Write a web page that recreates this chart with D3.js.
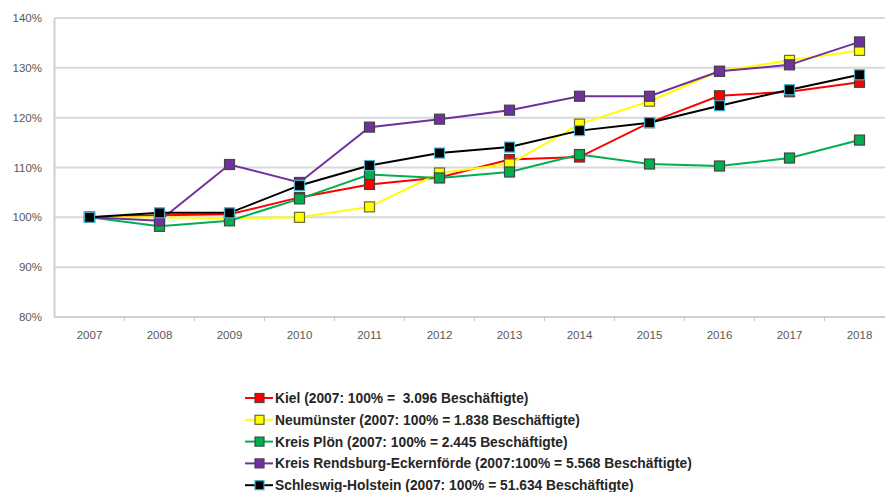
<!DOCTYPE html>
<html>
<head>
<meta charset="utf-8">
<script src="https://cdn.jsdelivr.net/npm/d3@7"></script>
<style>
  body { margin: 0; background: #fff; }
  svg text { font-family: "Liberation Sans", Arial, sans-serif; }
</style>
</head>
<body>
<svg class="chart" width="885" height="492"></svg>
<script>
const years = ["2007","2008","2009","2010","2011","2012","2013","2014","2015","2016","2017","2018"];
const kiel = [100, 100.4, 100.6, 104.0, 106.6, 108.0, 111.6, 112.1, 119.0, 124.4, 125.2, 127.1];
const neumuenster = [100, 100.0, 99.8, 100.0, 102.1, 108.9, 110.7, 118.7, 123.3, 129.3, 131.5, 133.5];
const ploen = [100, 98.2, 99.3, 103.7, 108.6, 107.9, 109.1, 112.6, 110.7, 110.3, 111.9, 115.5];
const rendsburg = [100, 99.3, 110.6, 107.0, 118.1, 119.7, 121.5, 124.3, 124.3, 129.3, 130.6, 135.2];
const schleswigHolstein = [100, 100.9, 100.9, 106.4, 110.4, 112.9, 114.1, 117.4, 119.0, 122.4, 125.6, 128.6];
const yTicks = [80, 90, 100, 110, 120, 130, 140];
const legendLabels = [
  "Kiel (2007: 100% =  3.096 Beschäftigte)",
  "Neumünster (2007: 100% = 1.838 Beschäftigte)",
  "Kreis Plön (2007: 100% = 2.445 Beschäftigte)",
  "Kreis Rendsburg-Eckernförde (2007:100% = 5.568 Beschäftigte)",
  "Schleswig-Holstein (2007: 100% = 51.634 Beschäftigte)"
];

const series = [
  { values: kiel, color: "#ff0000", edge: "#444" },
  { values: neumuenster, color: "#ffff00", edge: "#6b6b30" },
  { values: ploen, color: "#00b050", edge: "#444" },
  { values: rendsburg, color: "#7030a0", edge: "#444" },
  { values: schleswigHolstein, color: "#000000", edge: "#4bacc6" }
];
series.forEach((s, i) => s.label = legendLabels[i]);

const svg = d3.select(".chart");
const plotLeft = 54.5, plotTop = 18, plotBottom = 317;

const x = d3.scaleBand().domain(years).range([plotLeft, plotLeft + 70 * years.length]);
const y = d3.scaleLinear().domain([80, 140]).range([plotBottom, plotTop]);

// Gitternetz
svg.append("g").selectAll("line")
  .data(yTicks.filter(t => t > 80))
  .enter().append("line")
  .attr("x1", plotLeft).attr("x2", 885)
  .attr("y1", d => y(d)).attr("y2", d => y(d))
  .attr("stroke", "#d9d9d9").attr("stroke-width", 2);

// y-Achse
svg.append("line")
  .attr("x1", plotLeft).attr("x2", plotLeft).attr("y1", plotTop).attr("y2", plotBottom + 1)
  .attr("stroke", "#d0d0d0").attr("stroke-width", 2);
svg.append("g").selectAll("text")
  .data(yTicks).enter().append("text")
  .attr("x", 42).attr("y", d => y(d) + 4)
  .attr("text-anchor", "end")
  .style("font-size", "11.5px").style("fill", "#595959")
  .text(d => d + "%");

// x-Achse
svg.append("line")
  .attr("x1", plotLeft).attr("x2", 885).attr("y1", plotBottom).attr("y2", plotBottom)
  .attr("stroke", "#d0d0d0").attr("stroke-width", 2);
svg.append("g").selectAll("line")
  .data(years.slice(1)).enter().append("line")
  .attr("x1", d => x(d)).attr("x2", d => x(d))
  .attr("y1", plotBottom).attr("y2", plotBottom + 4)
  .attr("stroke", "#c8c8c8").attr("stroke-width", 1);
svg.append("g").selectAll("text")
  .data(years).enter().append("text")
  .attr("x", d => x(d) + x.bandwidth() / 2).attr("y", 339)
  .attr("text-anchor", "middle")
  .style("font-size", "11.5px").style("fill", "#595959")
  .text(d => d);

// Linien und Marker
const line = d3.line()
  .x((d, i) => x(years[i]) + x.bandwidth() / 2)
  .y(d => y(d));

series.forEach(s => {
  const g = svg.append("g");
  g.append("path")
    .attr("d", line(s.values))
    .attr("fill", "none")
    .attr("stroke", s.color)
    .attr("stroke-width", 2);
  g.selectAll("rect")
    .data(s.values).enter().append("rect")
    .attr("x", (d, i) => x(years[i]) + x.bandwidth() / 2 - 5)
    .attr("y", d => y(d) - 5)
    .attr("width", 10).attr("height", 10)
    .attr("fill", s.color)
    .attr("stroke", s.edge).attr("stroke-width", 1.2);
});

// Legende
const legend = svg.append("g");
series.forEach((s, i) => {
  const ly = 398 + i * 21.8;
  legend.append("line")
    .attr("x1", 245).attr("x2", 273).attr("y1", ly).attr("y2", ly)
    .attr("stroke", s.color).attr("stroke-width", 2);
  legend.append("rect")
    .attr("x", 255).attr("y", ly - 4.5).attr("width", 9).attr("height", 9)
    .attr("fill", s.color).attr("stroke", s.edge).attr("stroke-width", 1.2);
  legend.append("text")
    .attr("x", 275).attr("y", ly + 5)
    .style("font-size", "13.8px").style("font-weight", "bold")
    .style("fill", "#262626").style("white-space", "pre")
    .text(s.label);
});
</script>
</body>
</html>
